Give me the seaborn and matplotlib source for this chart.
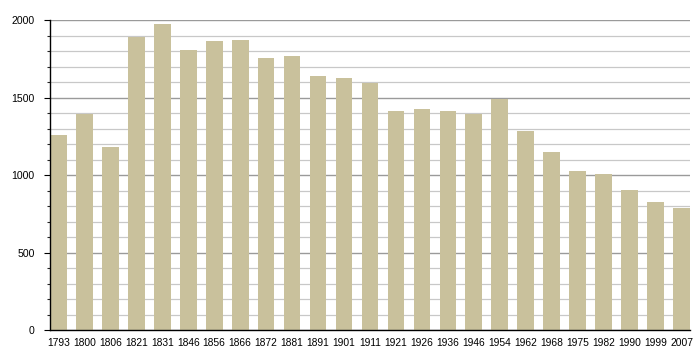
import seaborn as sns
import pandas as pd
import matplotlib.pyplot as plt
from matplotlib.ticker import MultipleLocator

# Population par année de recensement
years = ['1793', '1800', '1806', '1821', '1831', '1846', '1856', '1866', '1872', '1881',
         '1891', '1901', '1911', '1921', '1926', '1936', '1946', '1954', '1962', '1968',
         '1975', '1982', '1990', '1999', '2007']
population = [1258, 1398, 1181, 1895, 1974, 1811, 1865, 1871, 1759, 1768,
              1639, 1626, 1598, 1413, 1426, 1413, 1398, 1495, 1284, 1148,
              1026, 1011, 903, 826, 787]

df = pd.DataFrame({'annee': years, 'pop': population})

sns.set_style('white')
plt.rcParams['font.family'] = ['Liberation Sans', 'DejaVu Sans']

fig = plt.figure(figsize=(7, 3.6), dpi=100)
ax = fig.add_axes([0.0714, 0.0833, 0.9143, 0.86])

bar_w = 0.645
sns.barplot(data=df, x='annee', y='pop', color='#c9c19c', saturation=1,
            width=bar_w, linewidth=0, ax=ax)

ax.set_xlim(-bar_w / 2, len(years) - 1 + bar_w / 2)
ax.set_ylim(0, 2000)
ax.yaxis.set_major_locator(MultipleLocator(500))
ax.yaxis.set_minor_locator(MultipleLocator(100))

# Grille : traits plus foncés tous les 500, clairs tous les 100
ax.set_axisbelow(True)
ax.grid(axis='y', which='major', color='#9a9a9a', linewidth=1.0)
ax.grid(axis='y', which='minor', color='#c8c8c8', linewidth=0.9)
ax.grid(axis='x', visible=False)

for s in ['top', 'right']:
    ax.spines[s].set_visible(False)
ax.spines['left'].set_color('black')
ax.spines['left'].set_linewidth(1.0)
ax.spines['bottom'].set_color('black')
ax.spines['bottom'].set_linewidth(1.0)

ax.tick_params(axis='y', which='major', left=True, length=4, width=0.8,
               labelsize=7.6, pad=7, colors='black')
ax.tick_params(axis='y', which='minor', left=True, length=2.5, width=0.8)
ax.tick_params(axis='x', bottom=False, labelsize=7.4, pad=2, colors='black')

ax.set_xlabel('')
ax.set_ylabel('')

plt.savefig('out.png', dpi=100)
